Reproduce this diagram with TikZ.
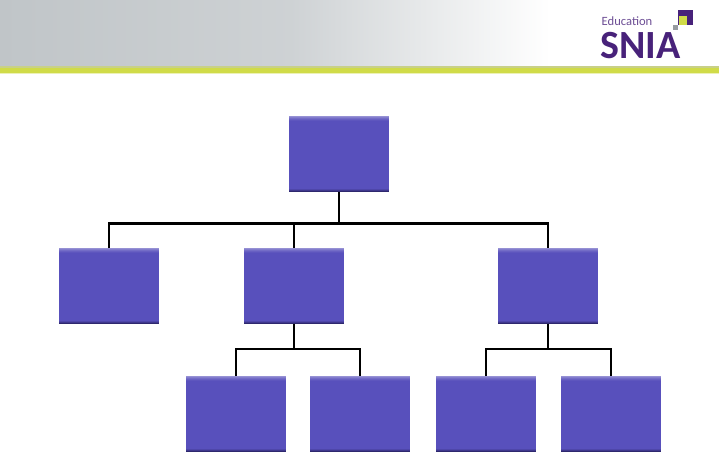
\documentclass[tikz,border=0pt]{standalone}
\usepackage{fontspec}
\setmainfont{Open Sans}
\newfontfamily\logofont{Carlito}
\definecolor{boxc}{RGB}{88,80,188}
\definecolor{boxtop}{RGB}{150,145,212}
\definecolor{boxbot}{RGB}{46,40,110}
\definecolor{bandgrey}{RGB}{192,197,200}
\definecolor{lime}{RGB}{208,219,72}
\definecolor{snia}{RGB}{72,34,122}
\definecolor{sqgrey}{RGB}{150,155,160}
\tikzset{
  x=1pt,y=-1pt,
  orgbox/.style={minimum width=100pt,minimum height=76pt,inner sep=0pt,outer sep=0pt,fill=boxc,
    path picture={
      \foreach \i/\m in {0/100,1/70,2/45,3/25,4/10}{
        \fill[boxtop!\m!boxc] ([yshift=-\i pt]path picture bounding box.north west) rectangle ([yshift=-\i pt-1pt]path picture bounding box.north east);
      }
      \foreach \i/\m in {0/100,1/60,2/25}{
        \fill[boxbot!\m!boxc] ([yshift=\i pt]path picture bounding box.south west) rectangle ([yshift=\i pt+1pt]path picture bounding box.south east);
      }
    }},
  link/.style={draw=black,line width=2.4pt}
}
\begin{document}
\begin{tikzpicture}
\useasboundingbox (0,0) rectangle (719,451);
\fill[white] (0,0) rectangle (719,451);
% header
\fill[left color=bandgrey,right color=bandgrey!78!white] (0,0) rectangle (290,67);
\fill[left color=bandgrey!78!white,right color=white] (290,0) rectangle (550,67);
\fill[bandgrey!50!lime] (0,66) rectangle (719,68);
\fill[lime] (0,68) rectangle (719,72.5);
\fill[lime!40!white] (0,72.5) rectangle (719,74);
% logo
\node[font=\logofont\fontsize{12.6}{13}\selectfont,text=snia!80!white,inner sep=0pt,anchor=base west] (edu) at (601.5,25) {Education};
\node[font=\logofont\bfseries\fontsize{40}{40}\selectfont,text=snia,inner sep=0pt,anchor=base west] (sn) at (600,58) {SNIA};
\fill[snia] (678,10) rectangle (693,24.5);
\fill[lime] (678.5,16) rectangle (687,24.5);
\fill[sqgrey] (673,25) rectangle (678,30);
% boxes
\node[orgbox] (top) at (339,154) {};
\node[orgbox] (a) at (109,286) {};
\node[orgbox] (b) at (294,286) {};
\node[orgbox] (c) at (548,286) {};
\node[orgbox] (b1) at (236,414) {};
\node[orgbox] (b2) at (360,414) {};
\node[orgbox] (c1) at (486,414) {};
\node[orgbox] (c2) at (611,414) {};
% connectors
\coordinate (bus) at (339,223.5);
\coordinate (busb) at (294,349);
\coordinate (busc) at (548,349);
\draw[link] (top.south) -- (bus);
\draw[link] (a.north) |- (bus);
\draw[link] (c.north) |- (bus);
\draw[link] (b.north) -- (b.north |- bus);
\draw[link] (b.south) -- (busb);
\draw[link] (c.south) -- (busc);
\draw[link] (b1.north) |- (busb);
\draw[link] (b2.north) |- (busb);
\draw[link] (c1.north) |- (busc);
\draw[link] (c2.north) |- (busc);
\end{tikzpicture}
\end{document}
